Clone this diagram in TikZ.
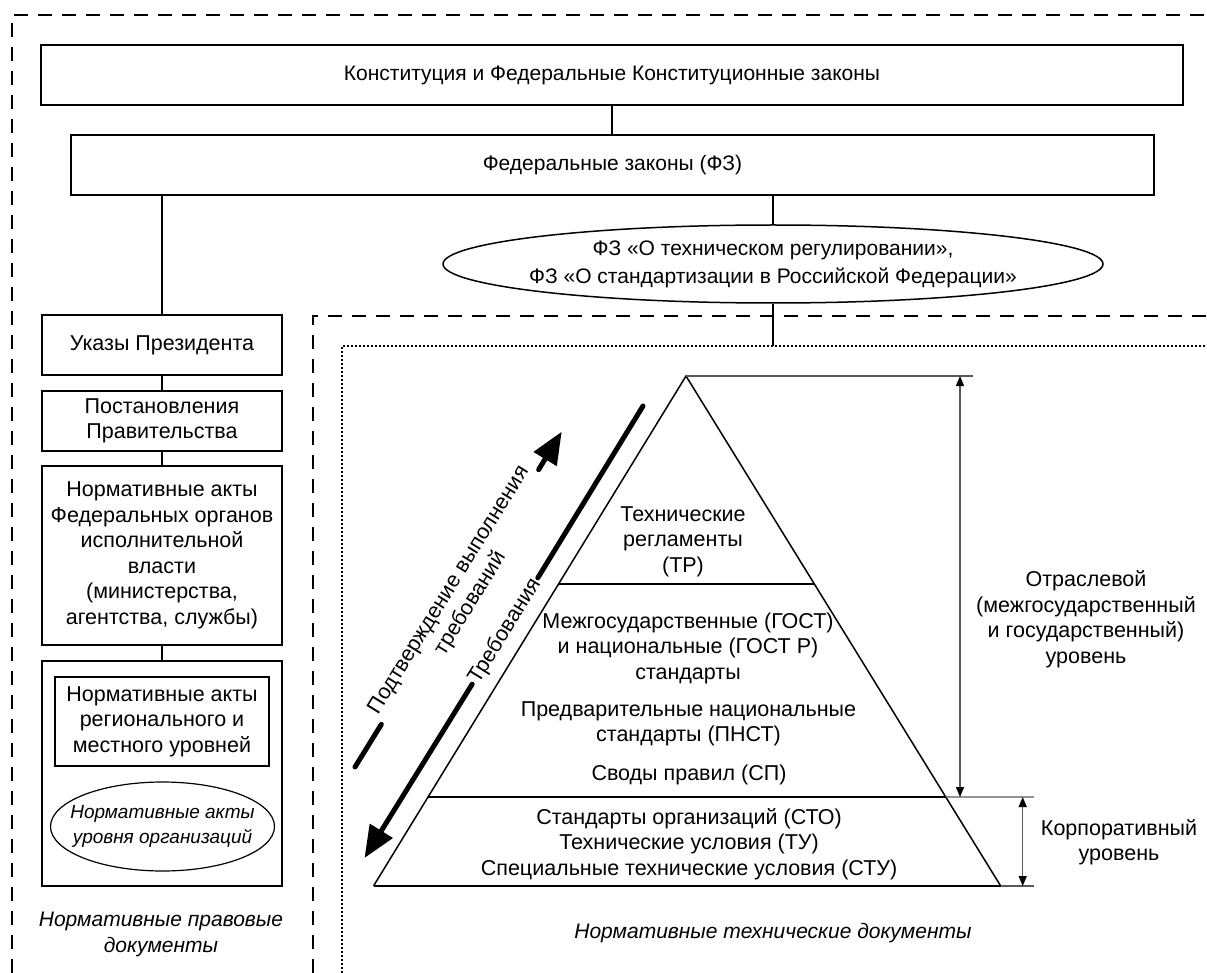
\documentclass[tikz,border=0pt]{standalone}
\usepackage{fontspec}
\setmainfont{Liberation Sans}
\usetikzlibrary{arrows.meta,shapes.geometric,calc}
\begin{document}
\begin{tikzpicture}[x=1pt,y=-1pt,
  every node/.style={font=\fontsize{21.5}{25.5}\selectfont, align=center, inner sep=0pt},
  boxnode/.style={draw, line width=1.8pt, rectangle},
  conn/.style={line width=1.3pt},
  frameD/.style={line width=2pt, dash pattern=on 14pt off 10pt},
  frameP/.style={line width=1.6pt, dash pattern=on 2pt off 2pt},
  pyr/.style={line width=1.5pt},
  extline/.style={line width=1.3pt, draw=black!65},
  dimarrow/.style={line width=1.3pt, draw=black!65,
     {Triangle[length=10pt,width=8pt,color=black]}-{Triangle[length=10pt,width=8pt,color=black]}},
  thickline/.style={line width=5pt, line cap=round},
  bigtip/.style={-{Triangle[length=32pt,width=26pt]}},
  itnode/.style={font=\fontsize{21}{25.5}\selectfont\itshape},
]
\useasboundingbox (0,0) rectangle (1207,973);

% frames
\draw[frameD] (12,973) -- (12,15) -- (1207,15);
\draw[frameD] (313,973) -- (313,316) -- (1207,316);
\draw[frameP] (342,973) -- (342,346) -- (1207,346);

% top boxes
\node[boxnode, minimum width=1142pt, minimum height=60pt, font=\fontsize{21}{25.5}\selectfont] (const) at (612,75) {Конституция и Федеральные Конституционные законы};
\node[boxnode, minimum width=1083pt, minimum height=60pt, font=\fontsize{21}{25.5}\selectfont] (fz) at (612.5,165) {Федеральные законы (ФЗ)};
\node[draw, ellipse, line width=1.5pt, minimum width=660pt, minimum height=78pt,
      inner xsep=-14pt, inner ysep=0pt, font=\fontsize{21}{28}\selectfont] (fzell) at (773,264)
      {ФЗ «О техническом регулировании»,\\ФЗ «О стандартизации в Российской Федерации»};

% left column
\node[boxnode, minimum width=240pt, minimum height=60pt] (ukaz) at (162,345) {Указы Президента};
\node[boxnode, minimum width=240pt, minimum height=60pt] (post) at (162,420.7) {Постановления\\Правительства};
\node[boxnode, minimum width=240pt, minimum height=179pt] (foiv) at (162,555.3)
  {Нормативные акты\\Федеральных органов\\исполнительной\\власти\\(министерства,\\агентства, службы)};
\node[boxnode, minimum width=240pt, minimum height=225pt] (reg) at (162,773.5) {};
\node[draw, line width=1.3pt, minimum width=214pt, minimum height=89pt] (regin) at (162,721.5)
  {Нормативные акты\\регионального и\\местного уровней};
\node[draw, ellipse, line width=1.2pt, minimum width=221pt, minimum height=89pt,
      inner xsep=-13pt, inner ysep=0pt, font=\fontsize{19}{25}\selectfont\itshape] (org) at (162.5,826.5)
  {Нормативные акты\\уровня организаций};
\node[itnode] (lawdocs) at (161,934.5) {Нормативные правовые\\документы};

% connectors
\draw[conn] (const.south) -- (const.south |- fz.north);
\draw[conn] (fz.south -| ukaz.north) -- (ukaz.north);
\draw[conn] (fz.south -| fzell.north) -- (fzell.north);
\coordinate (dtop) at (773,346);
\draw[conn] (fzell.south) -- (dtop);
\draw[conn] (ukaz.south) -- (post.north);
\draw[conn] (post.south) -- (foiv.north);
\draw[conn] (foiv.south) -- (reg.north);

% pyramid
\coordinate (A) at (686,376);
\coordinate (BL) at (373.5,886);
\coordinate (BR) at (1000.7,886);
\draw[pyr, line join=miter] (BL) -- (A) -- (BR);
\draw[line width=2pt] (BL) -- (BR);
\draw[pyr] ($(A)!0.408!(BL)$) -- ($(A)!0.408!(BR)$);
\draw[pyr] ($(A)!0.8255!(BL)$) coordinate (ML) -- ($(A)!0.8255!(BR)$) coordinate (MR);

\node (tr) at (683,541.7) {Технические\\регламенты\\(ТР)};
\node (gost) at (688,648) {Межгосударственные (ГОСТ)\\и национальные (ГОСТ Р)\\стандарты};
\node (pnst) at (688.5,724) {Предварительные национальные\\стандарты (ПНСТ)};
\node (sp) at (689,775) {Своды правил (СП)};
\node (sto) at (689,844) {Стандарты организаций (СТО)\\Технические условия (ТУ)\\Специальные технические условия (СТУ)};
\node[itnode] (techdocs) at (773,933) {Нормативные технические документы};

% extension lines and dimension arrows
\coordinate (Etop) at (973,376);
\coordinate (Emid) at (1034,797);
\coordinate (Ebot) at (1034,886);
\draw[extline] (A) -- (Etop);
\draw[extline] (MR) -- (Emid);
\draw[extline] (BR) -- (Ebot);
\coordinate (d1a) at (960,376);
\coordinate (d1b) at (960,797);
\coordinate (d2a) at (1022.7,797);
\coordinate (d2b) at (1022.7,886);
\draw[dimarrow] (d1a) -- (d1b);
\draw[dimarrow] (d2a) -- (d2b);
\node (otr) at (1086,619) {Отраслевой\\(межгосударственный\\и государственный)\\уровень};
\node (korp) at (1119,842) {Корпоративный\\уровень};

% big arrows
\node[rotate=58.3, inner xsep=3pt] (treb) at (505,631) {Требования};
\coordinate (trebS) at (643,406);
\coordinate (trebT) at (364.5,858);
\draw[thickline] (trebS) -- (treb.east);
\draw[thickline, bigtip] (treb.west) -- (trebT);

\node[rotate=58.3, inner xsep=6pt] (podt) at (460,597) {Подтверждение выполнения\\требований};
\coordinate (podtS) at (355,767);
\coordinate (podtT) at (561.7,431.7);
\draw[thickline] (podtS) -- (podt.west);
\draw[thickline, bigtip] (podt.east) -- (podtT);
\end{tikzpicture}
\end{document}
